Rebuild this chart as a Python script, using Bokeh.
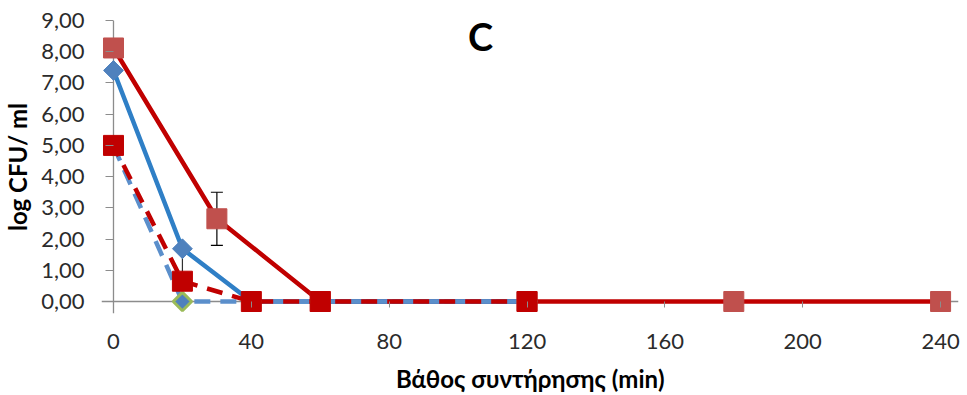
import math
from bokeh.plotting import figure
from bokeh.models import ColumnDataSource, Span, Label, Whisker, TeeHead, Range1d, FixedTicker
from bokeh.embed import file_html
from bokeh.resources import INLINE

# ---- data ----
x_ticks = [0, 40, 80, 120, 160, 200, 240]
y_ticks = [0, 1, 2, 3, 4, 5, 6, 7, 8, 9]
y_tick_labels = ["0,00", "1,00", "2,00", "3,00", "4,00", "5,00", "6,00", "7,00", "8,00", "9,00"]

a_x = [0, 30, 60, 120, 180, 240]
a_y = [8.12, 2.65, 0, 0, 0, 0]
a_err = [0, 0.85, 0, 0, 0, 0]

b_x = [0, 20, 40, 60, 120]
b_y = [7.40, 1.69, 0, 0, 0]
b_err_minus = [0, 1.0, 0, 0, 0]

c_x = [0, 20, 40, 60, 120]
c_y = [5.00, 0.65, 0, 0, 0]

d_x = [0, 20, 40, 60, 120]
d_y = [4.98, 0, 0, 0, 0]

title_text = "C"
x_label = "Βάθος συντήρησης (min)"
y_label = "log CFU/ ml"

FONT = "Lato"
TICK_COLOR = "#2b2b2b"
AXIS_COLOR = "#8c8c8c"

p = figure(width=967, height=395, output_backend="svg", toolbar_location=None,
           x_range=Range1d(-3.48, 245.2), y_range=Range1d(-0.384, 9.0),
           min_border_left=101, min_border_right=9, min_border_top=20, min_border_bottom=82)
p.outline_line_color = None
p.background_fill_color = "white"
p.border_fill_color = "white"
p.xgrid.visible = False
p.ygrid.visible = False

# axes
p.xaxis.ticker = FixedTicker(ticks=x_ticks)
p.yaxis.ticker = FixedTicker(ticks=y_ticks)
p.yaxis.major_label_overrides = {t: l for t, l in zip(y_ticks, y_tick_labels)}
for ax in (p.xaxis[0], p.yaxis[0]):
    ax.axis_line_color = None
    ax.minor_tick_line_color = None
    ax.major_tick_line_color = AXIS_COLOR
    ax.major_label_text_font = FONT
    ax.major_label_text_font_size = "22px"
    ax.major_label_text_color = TICK_COLOR
    ax.axis_label_text_font = FONT
    ax.axis_label_text_font_size = "24px"
    ax.axis_label_text_font_style = "bold"
    ax.axis_label_text_color = "black"
p.xaxis.major_tick_in = 12
p.xaxis.major_tick_out = -6
p.xaxis.major_label_standoff = 20
p.xaxis.axis_label = x_label
p.xaxis.axis_label_standoff = 12
p.yaxis.major_tick_in = 12
p.yaxis.major_tick_out = -4
p.yaxis.major_label_standoff = 17
p.yaxis.axis_label = y_label
p.yaxis.axis_label_standoff = 6

p.add_layout(Span(location=0, dimension="width", line_color=AXIS_COLOR, line_width=1.3, level="underlay"))
p.add_layout(Span(location=0, dimension="height", line_color=AXIS_COLOR, line_width=1.3, level="underlay"))

# error bars
ea = [(x, y, e) for x, y, e in zip(a_x, a_y, a_err) if e > 0]
src_ea = ColumnDataSource(dict(x=[v[0] for v in ea], lo=[v[1] - v[2] for v in ea], hi=[v[1] + v[2] for v in ea]))
p.add_layout(Whisker(source=src_ea, base="x", lower="lo", upper="hi", line_color="black", line_width=1.2,
                     lower_head=TeeHead(size=12, line_color="black", line_width=1.2),
                     upper_head=TeeHead(size=12, line_color="black", line_width=1.2)))
eb = [(x, y, e) for x, y, e in zip(b_x, b_y, b_err_minus) if e > 0]
src_eb = ColumnDataSource(dict(x=[v[0] for v in eb], lo=[v[1] - v[2] for v in eb], hi=[v[1] for v in eb]))
p.add_layout(Whisker(source=src_eb, base="x", lower="lo", upper="hi", line_color="#303030", line_width=1.2,
                     lower_head=None, upper_head=None))

# lines
p.line(a_x, a_y, line_color="#C00000", line_width=4.5)
p.line(b_x, b_y, line_color="#2F7FC6", line_width=4.5)
p.line(d_x, d_y, line_color="#5B8FCB", line_width=4.5, line_dash="16 10", line_dash_offset=0)
p.line(c_x, c_y, line_color="#C00000", line_width=4.5, line_dash="16 10", line_dash_offset=4)

# markers
p.scatter(a_x, a_y, marker="square", size=20, fill_color="#C0504D", line_color="#C0504D")
p.scatter(b_x, b_y, marker="square", size=14, angle=math.pi / 4, fill_color="#4F81BD", line_color="#4F81BD")
p.scatter(d_x, d_y, marker="square", size=13, angle=math.pi / 4, fill_color="#4F81BD", line_color="#9BBB59", line_width=3)
p.scatter(c_x, c_y, marker="square", size=20, fill_color="#C00000", line_color="#C00000")

p.add_layout(Label(x=379, y=278, x_units="screen", y_units="screen", text=title_text,
                   text_font=FONT, text_font_size="38px", text_font_style="bold",
                   text_align="center", text_baseline="middle", text_color="black"))

open("out.html", "w").write(file_html(p, INLINE))
